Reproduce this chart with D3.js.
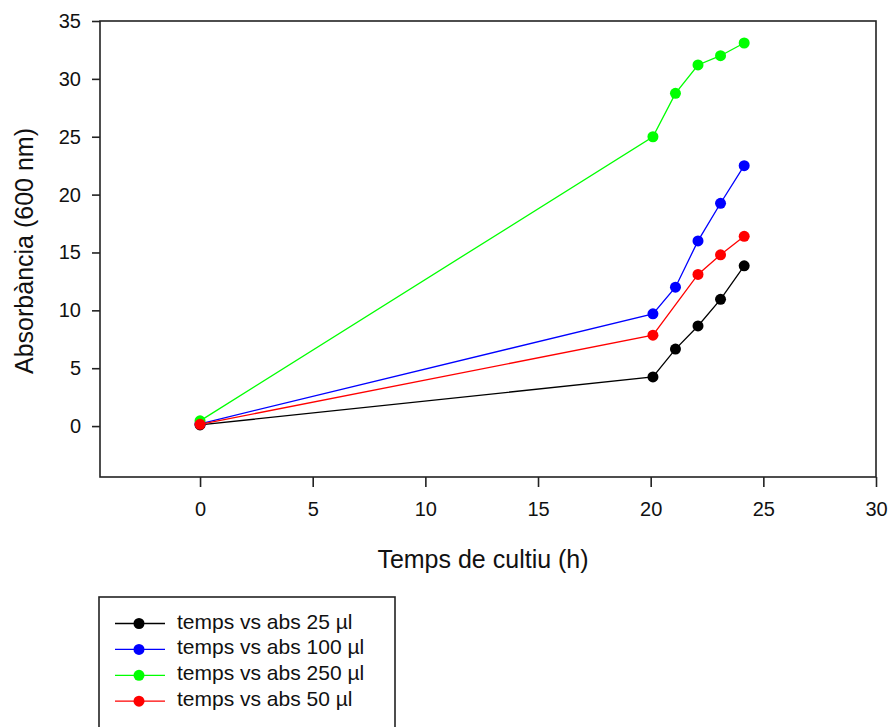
<!DOCTYPE html>
<html>
<head>
<meta charset="utf-8">
<script src="https://cdn.jsdelivr.net/npm/d3@7"></script>
<style>
  body { margin: 0; background: #fff; }
  svg { display: block; font-family: "Liberation Sans", Arial, sans-serif; }
</style>
</head>
<body>
<div id="vis"></div>
<script>
// chart data
const SERIES_NAMES = ["temps vs abs 25 µl", "temps vs abs 100 µl", "temps vs abs 250 µl", "temps vs abs 50 µl"];
const SERIES_COLORS = ["#000000", "#0000ff", "#00ff00", "#ff0000"];

const TIME_25 = [0, 20.1, 21.1, 22.1, 23.1, 24.15];
const ABS_25 = [0.1, 4.25, 6.65, 8.65, 10.95, 13.85];

const TIME_100 = [0, 20.1, 21.1, 22.1, 23.1, 24.15];
const ABS_100 = [0.2, 9.7, 12.0, 16.0, 19.25, 22.5];

const TIME_250 = [0, 20.1, 21.1, 22.1, 23.1, 24.15];
const ABS_250 = [0.45, 25.0, 28.75, 31.2, 32.0, 33.1];

const TIME_50 = [0, 20.1, 22.1, 23.1, 24.15];
const ABS_50 = [0.15, 7.85, 13.1, 14.8, 16.4];

const X_TICKS = [0, 5, 10, 15, 20, 25, 30];
const Y_TICKS = [0, 5, 10, 15, 20, 25, 30, 35];

// dimensions of the frame
const FRAME_WIDTH = 890;
const FRAME_HEIGHT = 727;

// plot area of the frame
const PLOT = {left: 100, right: 876, top: 21, bottom: 477};

const FRAME = d3.select("#vis")
                .append("svg")
                .attr("width", FRAME_WIDTH)
                .attr("height", FRAME_HEIGHT);

// scales
const X_SCALE = d3.scaleLinear()
                  .domain([-4.44, 30])
                  .range([PLOT.left, PLOT.right]);

const Y_SCALE = d3.scaleLinear()
                  .domain([-4.4, 35])
                  .range([PLOT.bottom, PLOT.top]);

// frame box
FRAME.append("rect")
     .attr("x", PLOT.left)
     .attr("y", PLOT.top)
     .attr("width", PLOT.right - PLOT.left)
     .attr("height", PLOT.bottom - PLOT.top)
     .attr("fill", "none")
     .attr("stroke", "#222")
     .attr("stroke-width", 1.6);

// x axis
const xAxis = FRAME.append("g")
     .attr("transform", "translate(0," + PLOT.bottom + ")")
     .call(d3.axisBottom(X_SCALE).tickValues(X_TICKS).tickSize(10).tickPadding(15));

// y axis
const yAxis = FRAME.append("g")
     .attr("transform", "translate(" + PLOT.left + ",0)")
     .call(d3.axisLeft(Y_SCALE).tickValues(Y_TICKS).tickSize(8).tickPadding(11));

[xAxis, yAxis].forEach((ax) => {
  ax.select(".domain").remove();
  ax.selectAll(".tick line").attr("stroke", "#222").attr("stroke-width", 1.6);
  ax.selectAll(".tick text")
    .attr("font-family", "'Liberation Sans', Arial, sans-serif")
    .attr("font-size", 20)
    .attr("fill", "#111");
});

// axis titles
FRAME.append("text")
     .attr("x", 483)
     .attr("y", 568)
     .attr("text-anchor", "middle")
     .attr("font-size", 25)
     .attr("fill", "#111")
     .text("Temps de cultiu (h)");

FRAME.append("text")
     .attr("transform", "translate(33,251) rotate(-90)")
     .attr("text-anchor", "middle")
     .attr("font-size", 25)
     .attr("fill", "#111")
     .text("Absorbància (600 nm)");

// builds series objects from the arrays
const SERIES = [
  {xs: TIME_25, ys: ABS_25},
  {xs: TIME_100, ys: ABS_100},
  {xs: TIME_250, ys: ABS_250},
  {xs: TIME_50, ys: ABS_50}
].map((s, i) => ({
  name: SERIES_NAMES[i],
  color: SERIES_COLORS[i],
  points: s.xs.map((x, j) => ({x: x, y: s.ys[j]}))
}));

const line = d3.line()
               .x((d) => X_SCALE(d.x))
               .y((d) => Y_SCALE(d.y));

// draws lines and markers for each series
SERIES.forEach((s) => {
  const g = FRAME.append("g");
  g.append("path")
   .datum(s.points)
   .attr("d", line)
   .attr("fill", "none")
   .attr("stroke", s.color)
   .attr("stroke-width", 1.3);
  g.selectAll("circle")
   .data(s.points)
   .enter()
   .append("circle")
     .attr("cx", (d) => X_SCALE(d.x))
     .attr("cy", (d) => Y_SCALE(d.y))
     .attr("r", 5.5)
     .attr("fill", s.color);
});

// legend
const LEGEND = {x: 99, y: 597, rowH: 25.9};

FRAME.append("rect")
     .attr("x", LEGEND.x)
     .attr("y", LEGEND.y)
     .attr("width", 296)
     .attr("height", 160)
     .attr("fill", "none")
     .attr("stroke", "#222")
     .attr("stroke-width", 1.6);

const rows = FRAME.selectAll(".legend-row")
     .data(SERIES)
     .enter()
     .append("g")
       .attr("class", "legend-row")
       .attr("transform", (d, i) => "translate(0," + (623.5 + i * LEGEND.rowH) + ")");

rows.append("line")
    .attr("x1", 115)
    .attr("x2", 165)
    .attr("stroke", (d) => d.color)
    .attr("stroke-width", 1.3);

rows.append("circle")
    .attr("cx", 139)
    .attr("r", 5.5)
    .attr("fill", (d) => d.color);

rows.append("text")
    .attr("x", 177)
    .attr("y", 5)
    .attr("font-size", 21)
    .attr("fill", "#111")
    .text((d) => d.name);
</script>
</body>
</html>
